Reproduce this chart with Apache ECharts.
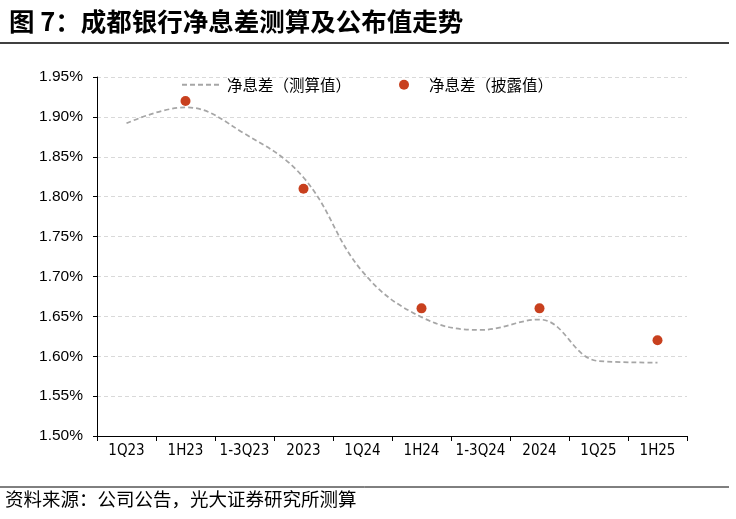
<!DOCTYPE html>
<html>
<head>
<meta charset="utf-8">
<script src="https://cdn.jsdelivr.net/npm/echarts@6/dist/echarts.min.js"></script>
<style>
html,body{margin:0;padding:0;background:#fff;}
#c{width:736px;height:519px;}
</style>
</head>
<body>
<div id="c"></div>
<script>
const categories = ['1Q23','1H23','1-3Q23','2023','1Q24','1H24','1-3Q24','2024','1Q25','1H25'];
const estimated = [1.892, 1.912, 1.879, 1.824, 1.706, 1.649, 1.633, 1.646, 1.594, 1.592];
const disclosed = [null, 1.92, null, 1.81, null, 1.66, null, 1.66, null, 1.62];
const seriesNames = ['净息差（测算值）', '净息差（披露值）'];
const titleText = '图 7：成都银行净息差测算及公布值走势';
const sourceText = '资料来源：公司公告，光大证券研究所测算';

const chart = echarts.init(document.getElementById('c'), null, {renderer:'canvas'});
const cjk = '"Noto Sans CJK SC", sans-serif';
const latin = '"Liberation Sans", "DejaVu Sans", sans-serif';
const narrow = '"Liberation Sans Narrow", "DejaVu Sans Condensed", "Liberation Sans", sans-serif';
chart.setOption({
  animation: false,
  backgroundColor: '#fff',
  title: {
    text: titleText,
    left: 4, top: 4,
    textStyle: {fontFamily: cjk, fontSize: 25.5, fontWeight: 'bold', color: '#000'}
  },
  graphic: [
    {type:'line', shape:{x1:0, y1:43, x2:729, y2:43}, style:{stroke:'#000', lineWidth:1.5}},
    {type:'line', shape:{x1:0, y1:487, x2:729, y2:487}, style:{stroke:'#000', lineWidth:1}},
    {type:'text', left:5, top:490, style:{text: sourceText, font:'18.5px "Noto Sans CJK SC", sans-serif', fill:'#000'}}
  ],
  legend: {
    left: 176, top: 72,
    itemWidth: 40, itemHeight: 10, itemGap: 48,
    textStyle: {fontFamily: cjk, fontSize: 15.5, color: '#000'},
    data: [
      {name: seriesNames[0], itemStyle: {opacity: 0}},
      {name: seriesNames[1], icon: 'circle'}
    ]
  },
  grid: {left: 97, right: 49, top: 77, bottom: 83},
  xAxis: {
    type: 'category',
    data: categories,
    boundaryGap: true,
    axisLine: {lineStyle: {color: '#000', width: 1}},
    axisTick: {show: true, length: 5, interval: 0, lineStyle: {color: '#000'}},
    axisLabel: {fontFamily: narrow, fontSize: 15, color: '#000', margin: 8, interval: 0}
  },
  yAxis: {
    type: 'value',
    min: 1.5, max: 1.95, interval: 0.05,
    axisLine: {show: true, lineStyle: {color: '#000', width: 1}},
    axisTick: {show: true, length: 4, lineStyle: {color: '#000'}},
    axisLabel: {fontFamily: latin, fontSize: 15.5, color: '#000', margin: 14,
      formatter: v => v.toFixed(2) + '%'},
    splitLine: {show: true, lineStyle: {color: '#d9d9d9', type: [4, 3], width: 1}}
  },
  series: [
    {
      name: seriesNames[0], type: 'line', data: estimated,
      smooth: 0.4, symbol: 'none', showSymbol: false,
      lineStyle: {color: '#a6a6a6', width: 1.75, type: [5, 3]},
      itemStyle: {color: '#a6a6a6'}
    },
    {
      name: seriesNames[1], type: 'scatter', data: disclosed,
      symbol: 'circle', symbolSize: 10,
      itemStyle: {color: '#c8401e', opacity: 1}
    }
  ]
});
</script>
</body>
</html>
